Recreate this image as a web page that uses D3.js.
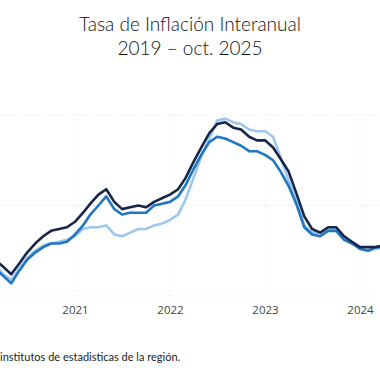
<!DOCTYPE html>
<html>
<head>
<meta charset="utf-8">
<script src="https://cdn.jsdelivr.net/npm/d3@7"></script>
<style>
  body { margin: 0; background: #fff; }
  svg { display: block; }
</style>
</head>
<body>
<div id="chart"></div>
<script>
// months shown (visible window of the original chart)
var months = ["2020-02","2020-03","2020-04","2020-05","2020-06","2020-07","2020-08","2020-09","2020-10","2020-11","2020-12",
  "2021-01","2021-02","2021-03","2021-04","2021-05","2021-06","2021-07","2021-08","2021-09","2021-10","2021-11","2021-12",
  "2022-01","2022-02","2022-03","2022-04","2022-05","2022-06","2022-07","2022-08","2022-09","2022-10","2022-11","2022-12",
  "2023-01","2023-02","2023-03","2023-04","2023-05","2023-06","2023-07","2023-08","2023-09","2023-10","2023-11","2023-12",
  "2024-01","2024-02","2024-03","2024-04"];

var serieOscura = [2.3,2.0,1.6,1.2,1.8,2.4,2.9,3.3,3.6,3.7,3.8,
  4.1,4.6,5.1,5.6,5.9,5.2,4.8,4.9,5.0,4.9,5.2,5.4,
  5.6,5.9,6.5,7.4,8.2,9.0,9.5,9.6,9.3,9.2,8.8,8.6,
  8.6,8.2,7.6,6.9,5.7,4.4,3.7,3.5,3.8,3.8,3.3,3.0,
  2.7,2.7,2.7,2.8];

var serieMedia = [1.9,1.5,1.1,0.7,1.4,2.0,2.4,2.7,2.9,2.9,3.0,
  3.4,3.9,4.5,5.0,5.5,4.8,4.5,4.6,4.6,4.6,5.0,5.1,
  5.2,5.5,6.1,7.0,7.8,8.5,8.8,8.7,8.5,8.3,8.0,8.0,
  7.8,7.5,6.9,6.1,5.1,3.8,3.4,3.3,3.6,3.6,3.1,2.9,
  2.6,2.5,2.7,2.7];

var serieClara = [2.0,1.7,1.2,0.9,1.5,2.1,2.5,2.8,2.9,3.0,3.1,
  3.3,3.7,3.8,3.8,3.9,3.4,3.3,3.5,3.7,3.7,3.9,4.0,
  4.2,4.5,5.3,6.5,7.7,8.7,9.7,9.8,9.6,9.5,9.2,9.1,
  9.1,8.8,7.7,6.4,5.3,3.9,3.5,3.5,3.7,3.7,3.3,2.9,
  2.7,2.5,2.6,2.7];

var yearTicks = ["2021","2022","2023","2024"];
var gridValues = [0, 5, 10];

var width = 380, height = 380;
var parseMonth = d3.timeParse("%Y-%m");

var svg = d3.select("#chart").append("svg")
  .attr("width", width)
  .attr("height", height);

var x = d3.scaleTime()
  .domain([new Date(2021, 0, 1), new Date(2024, 0, 1)])
  .range([75, 360]);

var y = d3.scaleLinear()
  .domain([0, 10])
  .range([296, 115]);

//Gridlines (dotted, very faint)
svg.append("g")
  .selectAll("line.h")
  .data(gridValues)
  .enter()
  .append("line")
  .attr("class", "h")
  .attr("x1", 0)
  .attr("x2", width)
  .attr("y1", function(d) { return y(d); })
  .attr("y2", function(d) { return y(d); })
  .attr("stroke", "#e3e3e3")
  .attr("stroke-width", 1)
  .attr("stroke-dasharray", "1,2");

svg.append("g")
  .selectAll("line.v")
  .data(yearTicks)
  .enter()
  .append("line")
  .attr("class", "v")
  .attr("x1", function(d) { return x(new Date(+d, 0, 1)); })
  .attr("x2", function(d) { return x(new Date(+d, 0, 1)); })
  .attr("y1", y(10))
  .attr("y2", y(0))
  .attr("stroke", "#ececec")
  .attr("stroke-width", 1)
  .attr("stroke-dasharray", "1,3");

//X axis, labels only
var xAxis = svg.append("g")
  .attr("transform", "translate(0," + y(0) + ")")
  .call(d3.axisBottom(x)
    .tickValues(yearTicks.map(function(d) { return new Date(+d, 0, 1); }))
    .tickFormat(d3.timeFormat("%Y"))
    .tickSize(0)
    .tickPadding(10));
xAxis.select(".domain").remove();
xAxis.selectAll("text")
  .attr("font-family", "'Open Sans', sans-serif")
  .attr("font-size", "11.5px")
  .attr("fill", "#444");

//Lines
var line = d3.line()
  .x(function(d, i) { return x(parseMonth(months[i])); })
  .y(function(d) { return y(d); });

var series = [
  {values: serieClara, color: "#9ec7ee"},
  {values: serieMedia, color: "#1f76c2"},
  {values: serieOscura, color: "#15264a"}
];

svg.append("g")
  .selectAll("path")
  .data(series)
  .enter()
  .append("path")
  .attr("d", function(d) { return line(d.values); })
  .attr("fill", "none")
  .attr("stroke", function(d) { return d.color; })
  .attr("stroke-width", 2.6)
  .attr("stroke-linejoin", "round");

//Title
var title = svg.append("text")
  .attr("text-anchor", "middle")
  .attr("font-family", "Lato, sans-serif")
  .attr("font-weight", 300)
  .attr("font-size", "19px")
  .attr("fill", "#111");
title.append("tspan").attr("x", 190).attr("y", 31).text("Tasa de Inflación Interanual");
title.append("tspan").attr("x", 190).attr("y", 55).text("2019 – oct. 2025");

//Source
svg.append("text")
  .attr("x", 0)
  .attr("y", 361)
  .attr("font-family", "Lato, sans-serif")
  .attr("font-size", "11px")
  .attr("fill", "#222")
  .text("institutos de estadisticas de la región.");
</script>
</body>
</html>
